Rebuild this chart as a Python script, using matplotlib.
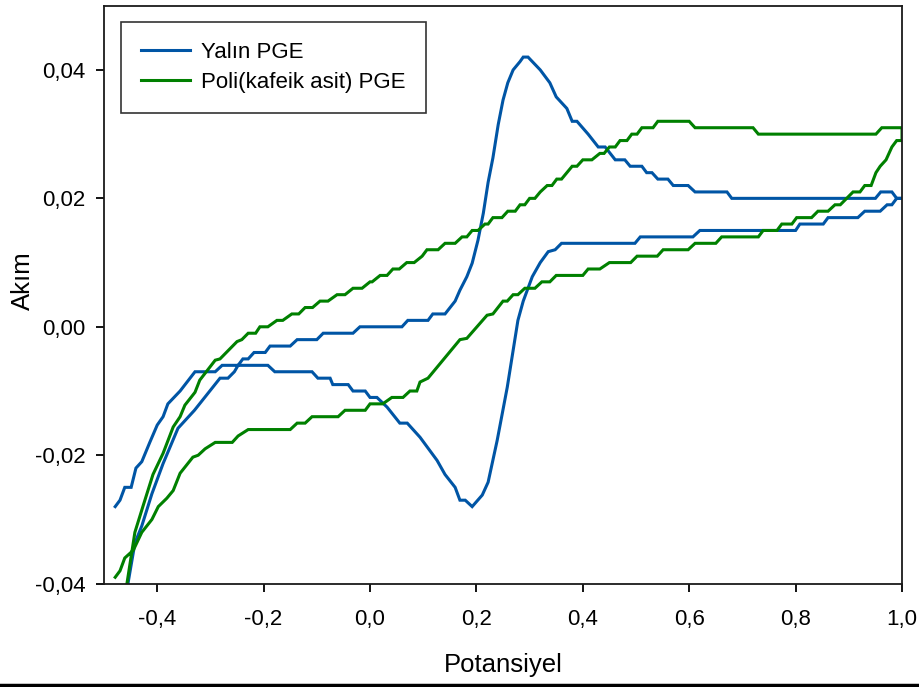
import matplotlib
matplotlib.use("Agg")
import matplotlib.pyplot as plt
from matplotlib.lines import Line2D

plt.rcParams['font.family'] = ['Liberation Sans', 'DejaVu Sans']

# Yalin PGE: anodic scan then cathodic scan (potential, current)
blue_fwd_x = [-0.46, -0.455, -0.442, -0.429, -0.41, -0.389, -0.361, -0.33, -0.306, -0.282,
              -0.267, -0.255, -0.248, -0.239, -0.229, -0.218, -0.197, -0.188, -0.15, -0.137,
              -0.1, -0.088, -0.032, -0.019, 0.06, 0.071, 0.109, 0.118, 0.141, 0.16,
              0.169, 0.182, 0.192, 0.203, 0.213, 0.222, 0.231, 0.241, 0.25, 0.259,
              0.269, 0.282, 0.288, 0.297, 0.32, 0.338, 0.35, 0.37, 0.38, 0.389,
              0.41, 0.429, 0.442, 0.461, 0.479, 0.489, 0.511, 0.52, 0.53, 0.541,
              0.56, 0.57, 0.598, 0.611, 0.671, 0.68, 0.95, 0.96, 0.981, 0.99, 1.0]
blue_fwd_y = [-0.0424, -0.040, -0.0337, -0.031, -0.026, -0.0213, -0.0158, -0.013, -0.0105, -0.008,
              -0.008, -0.007, -0.006, -0.005, -0.005, -0.004, -0.004, -0.003, -0.003, -0.002,
              -0.002, -0.001, -0.001, 0.0, 0.0, 0.001, 0.001, 0.002, 0.002, 0.004,
              0.0057, 0.0078, 0.0099, 0.0135, 0.0177, 0.0225, 0.0263, 0.0315, 0.0353, 0.038,
              0.040, 0.0413, 0.042, 0.042, 0.040, 0.038, 0.0358, 0.034, 0.032, 0.032,
              0.030, 0.028, 0.028, 0.026, 0.026, 0.025, 0.025, 0.024, 0.024, 0.023,
              0.023, 0.022, 0.022, 0.021, 0.021, 0.020, 0.020, 0.021, 0.021, 0.020, 0.020]
blue_rev_x = [1.0, 0.99, 0.981, 0.972, 0.959, 0.93, 0.917, 0.861, 0.852, 0.808,
              0.80, 0.62, 0.607, 0.508, 0.498, 0.36, 0.348, 0.335, 0.32, 0.305,
              0.288, 0.278, 0.273, 0.258, 0.239, 0.222, 0.211, 0.192, 0.179, 0.169,
              0.16, 0.141, 0.126, 0.094, 0.07, 0.056, 0.032, 0.013, 0.0, -0.009,
              -0.032, -0.041, -0.070, -0.075, -0.098, -0.109, -0.179, -0.192, -0.278, -0.291,
              -0.329, -0.357, -0.38, -0.389, -0.40, -0.414, -0.429, -0.44, -0.449, -0.461,
              -0.47, -0.479]
blue_rev_y = [0.020, 0.020, 0.019, 0.019, 0.018, 0.018, 0.017, 0.017, 0.016, 0.016,
              0.015, 0.015, 0.014, 0.014, 0.013, 0.013, 0.012, 0.0117, 0.010, 0.0078,
              0.004, 0.001, -0.0016, -0.0094, -0.0177, -0.0242, -0.0262, -0.028, -0.027, -0.027,
              -0.025, -0.023, -0.0208, -0.0172, -0.015, -0.015, -0.0125, -0.011, -0.011, -0.010,
              -0.010, -0.009, -0.009, -0.008, -0.008, -0.007, -0.007, -0.006, -0.006, -0.007,
              -0.007, -0.010, -0.012, -0.014, -0.0153, -0.018, -0.021, -0.022, -0.025, -0.025,
              -0.027, -0.028]

# Poli(kafeik asit) PGE
green_fwd_x = [-0.462, -0.457, -0.442, -0.427, -0.408, -0.389, -0.37, -0.357, -0.348, -0.329,
               -0.32, -0.291, -0.282, -0.25, -0.241, -0.229, -0.215, -0.207, -0.192, -0.175,
               -0.164, -0.147, -0.134, -0.122, -0.108, -0.094, -0.079, -0.062, -0.047, -0.032,
               -0.015, 0.0, 0.004, 0.019, 0.032, 0.043, 0.055, 0.069, 0.083, 0.098,
               0.107, 0.128, 0.141, 0.16, 0.173, 0.182, 0.192, 0.203, 0.216, 0.222,
               0.231, 0.248, 0.259, 0.273, 0.282, 0.291, 0.30, 0.31, 0.32, 0.333,
               0.342, 0.351, 0.36, 0.37, 0.38, 0.389, 0.40, 0.417, 0.432, 0.44,
               0.45, 0.461, 0.47, 0.483, 0.492, 0.502, 0.511, 0.532, 0.541, 0.6,
               0.611, 0.72, 0.73, 0.951, 0.962, 1.0]
green_fwd_y = [-0.0427, -0.040, -0.032, -0.028, -0.023, -0.0197, -0.0156, -0.014, -0.0122, -0.0102,
               -0.0083, -0.0052, -0.005, -0.0023, -0.002, -0.001, -0.001, 0.0, 0.0, 0.001,
               0.001, 0.002, 0.002, 0.003, 0.003, 0.004, 0.004, 0.005, 0.005, 0.006,
               0.006, 0.007, 0.007, 0.008, 0.008, 0.009, 0.009, 0.010, 0.010, 0.011,
               0.012, 0.012, 0.013, 0.013, 0.014, 0.014, 0.015, 0.015, 0.016, 0.016,
               0.017, 0.017, 0.018, 0.018, 0.019, 0.019, 0.020, 0.020, 0.021, 0.022,
               0.022, 0.023, 0.023, 0.024, 0.025, 0.025, 0.026, 0.026, 0.027, 0.027,
               0.028, 0.028, 0.029, 0.029, 0.030, 0.030, 0.031, 0.031, 0.032, 0.032,
               0.031, 0.031, 0.030, 0.030, 0.031, 0.031]
green_rev_x = [1.0, 0.99, 0.981, 0.970, 0.959, 0.951, 0.942, 0.930, 0.921, 0.908,
               0.896, 0.884, 0.874, 0.861, 0.842, 0.83, 0.802, 0.793, 0.774, 0.765,
               0.739, 0.73, 0.661, 0.65, 0.611, 0.598, 0.551, 0.54, 0.502, 0.49,
               0.45, 0.432, 0.41, 0.40, 0.35, 0.338, 0.323, 0.31, 0.291, 0.278,
               0.269, 0.258, 0.25, 0.231, 0.22, 0.182, 0.169, 0.109, 0.094, 0.088,
               0.075, 0.062, 0.041, 0.024, 0.0, -0.009, -0.047, -0.06, -0.109, -0.122,
               -0.137, -0.15, -0.229, -0.248, -0.259, -0.291, -0.31, -0.323, -0.333, -0.357,
               -0.37, -0.382, -0.398, -0.41, -0.429, -0.445, -0.461, -0.47, -0.479]
green_rev_y = [0.029, 0.029, 0.028, 0.026, 0.025, 0.024, 0.022, 0.022, 0.021, 0.021,
               0.020, 0.019, 0.019, 0.018, 0.018, 0.017, 0.017, 0.016, 0.016, 0.015,
               0.015, 0.014, 0.014, 0.013, 0.013, 0.012, 0.012, 0.011, 0.011, 0.010,
               0.010, 0.009, 0.009, 0.008, 0.008, 0.007, 0.007, 0.006, 0.006, 0.005,
               0.005, 0.004, 0.004, 0.002, 0.0018, -0.0018, -0.002, -0.008, -0.0086, -0.010,
               -0.010, -0.011, -0.011, -0.012, -0.012, -0.013, -0.013, -0.014, -0.014, -0.015,
               -0.015, -0.016, -0.016, -0.017, -0.018, -0.018, -0.019, -0.020, -0.0203, -0.0228,
               -0.0255, -0.0267, -0.028, -0.030, -0.032, -0.0348, -0.036, -0.038, -0.039]

x_ticks = [-0.4, -0.2, 0.0, 0.2, 0.4, 0.6, 0.8, 1.0]
x_labels = ['-0,4', '-0,2', '0,0', '0,2', '0,4', '0,6', '0,8', '1,0']
y_ticks = [-0.04, -0.02, 0.00, 0.02, 0.04]
y_labels = ['-0,04', '-0,02', '0,00', '0,02', '0,04']

blue = '#0055a5'
green = '#008000'

fig = plt.figure(figsize=(9.19, 6.87), dpi=100)
ax = fig.add_axes([0.1132, 0.1504, 0.8683, 0.8413])

ax.plot(blue_fwd_x + blue_rev_x, blue_fwd_y + blue_rev_y, color=blue, lw=2.2,
        label='Yalın PGE', solid_joinstyle='miter')
ax.plot(green_fwd_x + green_rev_x, green_fwd_y + green_rev_y, color=green, lw=2.2,
        label='Poli(kafeik asit) PGE', solid_joinstyle='miter')

ax.set_xlim(-0.5, 1.0)
ax.set_ylim(-0.04, 0.05)
ax.set_xticks(x_ticks)
ax.set_xticklabels(x_labels)
ax.set_yticks(y_ticks)
ax.set_yticklabels(y_labels)
ax.tick_params(axis='both', direction='out', width=1.3, labelsize=16,
               colors='black', right=False, top=False)
ax.tick_params(axis='x', length=6, pad=12)
ax.tick_params(axis='y', length=5.5, pad=8)
for s in ax.spines.values():
    s.set_linewidth(1.3)
    s.set_color('#1a1a1a')

ax.set_xlabel('Potansiyel', fontsize=18.5)
ax.xaxis.set_label_coords(0.5, -0.12)
ax.set_ylabel('Akım', fontsize=18.5)
ax.yaxis.set_label_coords(-0.087, 0.524)

leg = ax.legend(loc='upper left', bbox_to_anchor=(0.0213, 0.9718), fontsize=16,
                frameon=True, fancybox=False, edgecolor='black', handlelength=2.2,
                handletextpad=0.5, borderpad=0.9, labelspacing=0.4, borderaxespad=0)
leg.get_frame().set_linewidth(1.2)

# thin rule along the lower edge of the figure
fig.add_artist(Line2D([0, 1], [0.003, 0.003], transform=fig.transFigure,
                      color='black', lw=2.5))

fig.savefig('out.png', dpi=100)
